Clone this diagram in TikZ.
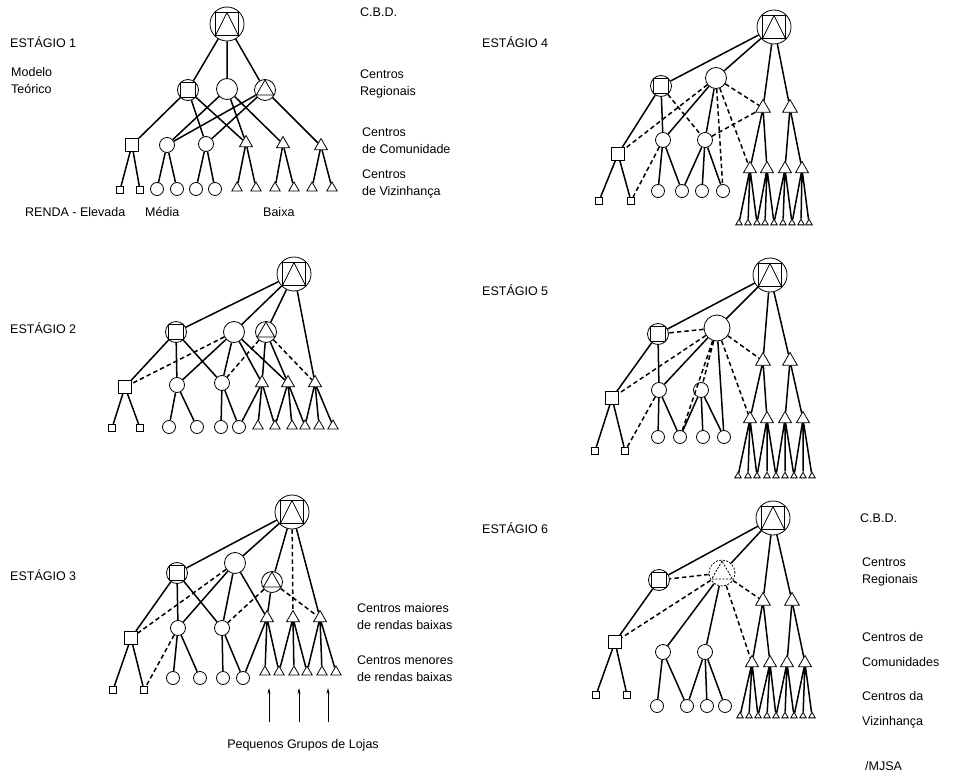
\documentclass[tikz,border=0pt]{standalone}
\usepackage{fontspec}
\setmainfont{Liberation Sans}
\usetikzlibrary{shapes.geometric,arrows.meta}

\begin{document}
\begin{tikzpicture}[x=1pt, y=-1pt]
  % styles
  \tikzstyle{unit}=[draw, line width=0.8pt, inner sep=0pt]
  \tikzstyle{cbd}=[unit, circle, minimum size=34pt, path picture={
      \draw [line width=0.8pt] (path picture bounding box.center) +(-11.5pt,-11.5pt) rectangle +(11.5pt,11.5pt);
      \draw [line width=0.8pt] (path picture bounding box.center) +(-11.5pt,-11.5pt) -- +(0pt,11.5pt) -- +(11.5pt,-11.5pt);}]
  \tikzstyle{regc}=[unit, circle, minimum size=21pt]
  \tikzstyle{regsq}=[regc, path picture={
      \draw [line width=0.8pt] (path picture bounding box.center) +(-7.3pt,-7.3pt) rectangle +(7.3pt,7.3pt);}]
  \tikzstyle{regtri}=[regc, path picture={
      \draw [line width=0.8pt] (path picture bounding box.center) +(90:10pt) -- +(210:10pt) -- +(330:10pt) -- cycle;}]
  \tikzstyle{regdash}=[unit, circle, dashed, dash pattern=on 2pt off 1.5pt, minimum size=26pt, path picture={
      \draw [line width=0.8pt, dash pattern=on 2pt off 1.5pt] (path picture bounding box.center) +(90:12pt) -- +(210:12pt) -- +(330:12pt) -- cycle;}]
  \tikzstyle{comsq}=[unit, rectangle, minimum size=13pt]
  \tikzstyle{comc}=[unit, circle, minimum size=15pt]
  \tikzstyle{comtri}=[unit, regular polygon, regular polygon sides=3, minimum size=15pt]
  \tikzstyle{bigtri}=[comtri, minimum size=17pt]
  \tikzstyle{vizsq}=[unit, rectangle, minimum size=7.5pt]
  \tikzstyle{vizc}=[unit, circle, minimum size=13pt]
  \tikzstyle{viztri}=[comtri, minimum size=12pt]
  \tikzstyle{grp}=[comtri, minimum size=7.5pt]
  \tikzstyle{link}=[draw, line width=1.5pt]
  \tikzstyle{dlink}=[draw, line width=1.5pt, dash pattern=on 4.5pt off 3pt]
  \tikzstyle{pointer}=[draw, line width=0.7pt, -{Stealth[length=6pt,width=3pt]}]
  \tikzstyle{lbl}=[anchor=west, inner sep=0pt, align=left, font=\fontsize{12.5}{17}\selectfont]

  \useasboundingbox (0,0) rectangle (962,776);

  % stage 1
  \node [cbd] (s1_cbd) at (227,24) {};
  \node [regsq] (s1_rsq) at (188,90) {};
  \node [regc] (s1_rc) at (227,89) {};
  \node [regtri] (s1_rtri) at (265,90) {};
  \node [comsq] (s1_csq) at (132,145) {};
  \node [comc] (s1_cc1) at (167,145) {};
  \node [comc] (s1_cc2) at (206,144) {};
  \node [comtri] (s1_ct1) at (246,143) {};
  \node [comtri] (s1_ct2) at (283,144) {};
  \node [comtri] (s1_ct3) at (321,146) {};
  \foreach \x [count=\i] in {120,140} \node [vizsq] (s1_vsq\i) at (\x,190) {};
  \foreach \x [count=\i] in {157,177,196,215} \node [vizc] (s1_vc\i) at (\x,189) {};
  \foreach \x [count=\i] in {237,256,275,294,312,332} \node [viztri] (s1_vt\i) at (\x,188) {};

  \draw [link] (s1_cbd) -- (s1_rsq) (s1_cbd) -- (s1_rc) (s1_cbd) -- (s1_rtri);
  \draw [link] (s1_rsq) -- (s1_csq) (s1_rsq) -- (s1_cc2) (s1_rsq) -- (s1_ct1);
  \draw [link] (s1_rc) -- (s1_cc1) (s1_rc) -- (s1_ct1) (s1_rc) -- (s1_ct2);
  \draw [link] (s1_rtri) -- (s1_cc1) (s1_rtri) -- (s1_cc2) (s1_rtri) -- (s1_ct3);
  \draw [link] (s1_ct1) -- (s1_vt1) (s1_ct1) -- (s1_vt2) (s1_ct2) -- (s1_vt3) (s1_ct2) -- (s1_vt4)
               (s1_ct3) -- (s1_vt5) (s1_ct3) -- (s1_vt6);

  % stage 2
  \node [cbd] (s2_cbd) at (294,274) {};
  \node [regsq] (s2_rsq) at (176,332) {};
  \node [regc] (s2_rc) at (234,332) {};
  \node [regtri] (s2_rtri) at (266,332) {};
  \node [comsq] (s2_csq) at (125,387) {};
  \node [comc] (s2_cc1) at (177,385) {};
  \node [comc] (s2_cc2) at (222,383) {};
  \node [comtri] (s2_ct1) at (262,383) {};
  \node [comtri] (s2_ct2) at (288,383) {};
  \node [comtri] (s2_ct3) at (315,383) {};
  \foreach \x [count=\i] in {112,140} \node [vizsq] (s2_vsq\i) at (\x,428) {};
  \foreach \x [count=\i] in {169,197,221,239} \node [vizc] (s2_vc\i) at (\x,427) {};
  \foreach \x [count=\i] in {258,275,292,305,319,333} \node [viztri] (s2_vt\i) at (\x,426) {};

  \draw [link] (s2_cbd) -- (s2_rsq) (s2_cbd) -- (s2_rc) (s2_cbd) -- (s2_rtri) (s2_cbd) -- (s2_ct3);
  \draw [link] (s2_rsq) -- (s2_csq) (s2_rsq) -- (s2_cc1) (s2_rsq) -- (s2_cc2);
  \draw [link] (s2_rc) -- (s2_cc1) (s2_rc) -- (s2_cc2) (s2_rc) -- (s2_ct1) (s2_rc) -- (s2_ct2);
  \draw [link] (s2_rtri) -- (s2_ct1) (s2_rtri) -- (s2_ct2);
  \draw [dlink] (s2_rc) -- (s2_csq) (s2_rtri) -- (s2_cc2) (s2_rtri) -- (s2_ct3);

  % stage 3
  \node [cbd] (s3_cbd) at (292,512) {};
  \node [regsq] (s3_rsq) at (177,573) {};
  \node [regc] (s3_rc) at (235,563) {};
  \node [regtri] (s3_rtri) at (272,582) {};
  \node [comsq] (s3_csq) at (131,638) {};
  \node [comc] (s3_cc1) at (178,628) {};
  \node [comc] (s3_cc2) at (222,628) {};
  \node [comtri] (s3_ct1) at (267,618) {};
  \node [comtri] (s3_ct2) at (293,618) {};
  \node [comtri] (s3_ct3) at (320,618) {};
  \foreach \x [count=\i] in {113,144} \node [vizsq] (s3_vsq\i) at (\x,690) {};
  \foreach \x [count=\i] in {173,200,223,243} \node [vizc] (s3_vc\i) at (\x,678) {};
  \foreach \x [count=\i] in {265,279,294,307,322,336} \node [viztri] (s3_vt\i) at (\x,672) {};

  \draw [link] (s3_cbd) -- (s3_rsq) (s3_cbd) -- (s3_rc) (s3_cbd) -- (s3_rtri) (s3_cbd) -- (s3_ct3);
  \draw [dlink] (s3_cbd) -- (s3_ct2);
  \draw [link] (s3_rsq) -- (s3_csq) (s3_rsq) -- (s3_cc1) (s3_rsq) -- (s3_cc2);
  \draw [link] (s3_rc) -- (s3_cc1) (s3_rc) -- (s3_cc2) (s3_rc) -- (s3_ct1);
  \draw [link] (s3_rtri) -- (s3_ct1);
  \draw [dlink] (s3_rc) -- (s3_csq) (s3_rtri) -- (s3_cc2) (s3_rtri) -- (s3_ct3) (s3_cc1) -- (s3_vsq2);
  \foreach \x [count=\i] in {269,299,328} {
    \coordinate (s3_a\i) at (\x,722);
    \coordinate (s3_b\i) at (\x,688);
    \draw [pointer] (s3_a\i) -- (s3_b\i);
  }

  % lower levels, stages 1 to 3
  \foreach \s in {1,2,3} {
    \draw [link] (s\s_csq) -- (s\s_vsq1) (s\s_csq) -- (s\s_vsq2);
    \draw [link] (s\s_cc1) -- (s\s_vc1) (s\s_cc1) -- (s\s_vc2) (s\s_cc2) -- (s\s_vc3) (s\s_cc2) -- (s\s_vc4);
  }
  \foreach \s in {2,3} {
    \draw [link] (s\s_ct1) -- (s\s_vc4) (s\s_ct1) -- (s\s_vt1) (s\s_ct1) -- (s\s_vt2)
                 (s\s_ct2) -- (s\s_vt2) (s\s_ct2) -- (s\s_vt3) (s\s_ct2) -- (s\s_vt4)
                 (s\s_ct3) -- (s\s_vt4) (s\s_ct3) -- (s\s_vt5) (s\s_ct3) -- (s\s_vt6);
  }

  % stage 4
  \node [cbd] (s4_cbd) at (774,27) {};
  \node [regsq] (s4_rsq) at (661,86) {};
  \node [regc] (s4_rc) at (716,78) {};
  \node [bigtri] (s4_bt1) at (763,108) {};
  \node [bigtri] (s4_bt2) at (790,108) {};
  \node [comsq] (s4_csq) at (618,154) {};
  \node [comc] (s4_cc1) at (663,140) {};
  \node [comc] (s4_cc2) at (705,140) {};
  \foreach \x [count=\i] in {750,767,785,802} \node [comtri] (s4_ct\i) at (\x,169) {};
  \foreach \x [count=\i] in {599,631} \node [vizsq] (s4_vsq\i) at (\x,201) {};
  \foreach \x [count=\i] in {658,682,702,723} \node [vizc] (s4_vc\i) at (\x,191) {};
  \foreach \x [count=\i] in {739,748,757,765,774,783,792,801,809} \node [grp] (s4_g\i) at (\x,223) {};

  \draw [link] (s4_cbd) -- (s4_rsq) (s4_cbd) -- (s4_rc) (s4_cbd) -- (s4_bt1) (s4_cbd) -- (s4_bt2);
  \draw [link] (s4_rsq) -- (s4_csq) (s4_rsq) -- (s4_cc1);
  \draw [link] (s4_rc) -- (s4_cc1) (s4_rc) -- (s4_cc2);
  \draw [dlink] (s4_rsq) -- (s4_cc2) (s4_rc) -- (s4_csq) (s4_rc) -- (s4_bt1) (s4_rc) -- (s4_ct1)
                (s4_rc) -- (s4_vc4) (s4_bt1) -- (s4_cc2);

  % stage 5
  \node [cbd] (s5_cbd) at (770,275) {};
  \node [regsq] (s5_rsq) at (658,334) {};
  \node [regc, minimum size=26pt] (s5_rc) at (717,328) {};
  \node [bigtri] (s5_bt1) at (763,361) {};
  \node [bigtri] (s5_bt2) at (790,361) {};
  \node [comsq] (s5_csq) at (612,398) {};
  \node [comc] (s5_cc1) at (659,390) {};
  \node [comc] (s5_cc2) at (701,390) {};
  \foreach \x [count=\i] in {750,767,785,803} \node [comtri] (s5_ct\i) at (\x,419) {};
  \foreach \x [count=\i] in {595,625} \node [vizsq] (s5_vsq\i) at (\x,451) {};
  \foreach \x [count=\i] in {658,680,703,724} \node [vizc] (s5_vc\i) at (\x,437) {};
  \foreach \x [count=\i] in {738,748,757,767,776,785,794,803,812} \node [grp] (s5_g\i) at (\x,476) {};

  \draw [link] (s5_cbd) -- (s5_rsq) (s5_cbd) -- (s5_rc) (s5_cbd) -- (s5_bt1) (s5_cbd) -- (s5_bt2);
  \draw [link] (s5_rsq) -- (s5_csq) (s5_rsq) -- (s5_cc1);
  \draw [link] (s5_rc) -- (s5_cc1) (s5_rc) -- (s5_vc4);
  \draw [dlink] (s5_rc) -- (s5_rsq) (s5_rc) -- (s5_csq) (s5_rc) -- (s5_cc2) (s5_rc) -- (s5_vc2)
                (s5_rc) -- (s5_ct1) (s5_rc) -- (s5_bt1);

  % stage 6
  \node [cbd] (s6_cbd) at (773,518) {};
  \node [regsq] (s6_rsq) at (659,580) {};
  \node [regdash] (s6_rd) at (722,573) {};
  \node [bigtri] (s6_bt1) at (763,601) {};
  \node [bigtri] (s6_bt2) at (792,601) {};
  \node [comsq] (s6_csq) at (615,642) {};
  \node [comc] (s6_cc1) at (663,652) {};
  \node [comc] (s6_cc2) at (705,652) {};
  \foreach \x [count=\i] in {752,770,787,805} \node [comtri] (s6_ct\i) at (\x,663) {};
  \foreach \x [count=\i] in {596,627} \node [vizsq] (s6_vsq\i) at (\x,695) {};
  \foreach \x [count=\i] in {657,687,707,725} \node [vizc] (s6_vc\i) at (\x,706) {};
  \foreach \x [count=\i] in {740,749,758,767,776,785,794,803,812} \node [grp] (s6_g\i) at (\x,716) {};

  \draw [link] (s6_cbd) -- (s6_rsq) (s6_cbd) -- (s6_rd) (s6_cbd) -- (s6_bt1) (s6_cbd) -- (s6_bt2);
  \draw [link] (s6_rsq) -- (s6_csq);
  \draw [link] (s6_rd) -- (s6_cc1) (s6_rd) -- (s6_cc2);
  \draw [dlink] (s6_rd) -- (s6_rsq) (s6_rd) -- (s6_csq) (s6_rd) -- (s6_ct1) (s6_rd) -- (s6_bt1);

  % lower levels, stages 4 to 6
  \foreach \s in {4,5,6} {
    \draw [link] (s\s_csq) -- (s\s_vsq1) (s\s_csq) -- (s\s_vsq2);
    \draw [link] (s\s_cc1) -- (s\s_vc1) (s\s_cc1) -- (s\s_vc2)
                 (s\s_cc2) -- (s\s_vc2) (s\s_cc2) -- (s\s_vc3) (s\s_cc2) -- (s\s_vc4);
    \draw [link] (s\s_bt1) -- (s\s_ct1) (s\s_bt1) -- (s\s_ct2) (s\s_bt2) -- (s\s_ct3) (s\s_bt2) -- (s\s_ct4);
    \foreach \i/\j/\k/\l in {1/1/2/3, 2/3/4/5, 3/5/6/7, 4/7/8/9}
      \draw [link] (s\s_ct\i) -- (s\s_g\j) (s\s_ct\i) -- (s\s_g\k) (s\s_ct\i) -- (s\s_g\l);
  }
  \foreach \s in {4,5}
    \draw [dlink] (s\s_cc1) -- (s\s_vsq2);

  % texts
  \node [lbl] (t_st1) at (10,42) {ESTÁGIO 1};
  \node [lbl] (t_model) at (11,81) {Modelo\\Teórico};
  \node [lbl] (t_cbd1) at (360,12) {C.B.D.};
  \node [lbl] (t_reg1) at (360,84) {Centros\\Regionais};
  \node [lbl] (t_com1) at (362,141) {Centros\\de Comunidade};
  \node [lbl] (t_viz1) at (362,184) {Centros\\de Vizinhança};
  \node [lbl] (t_renda) at (25,212) {RENDA - Elevada};
  \node [lbl] (t_media) at (145,212) {Média};
  \node [lbl] (t_baixa) at (263,212) {Baixa};
  \node [lbl] (t_st2) at (10,328) {ESTÁGIO 2};
  \node [lbl] (t_st3) at (10,575) {ESTÁGIO 3};
  \node [lbl] (t_maior) at (357,617) {Centros maiores\\de rendas baixas};
  \node [lbl] (t_menor) at (357,669) {Centros menores\\de rendas baixas};
  \node [lbl, anchor=center] (t_lojas) at (303,745) {Pequenos Grupos de Lojas};
  \node [lbl] (t_st4) at (482,42) {ESTÁGIO 4};
  \node [lbl] (t_st5) at (482,290) {ESTÁGIO 5};
  \node [lbl] (t_st6) at (482,528) {ESTÁGIO 6};
  \node [lbl] (t_cbd6) at (860,518) {C.B.D.};
  \node [lbl] (t_reg6) at (862,572) {Centros\\Regionais};
  \node [lbl, font=\fontsize{12.5}{25}\selectfont] (t_com6) at (862,650) {Centros de\\Comunidades};
  \node [lbl, font=\fontsize{12.5}{25}\selectfont] (t_viz6) at (862,710) {Centros da\\Vizinhança};
  \node [lbl] (t_sign) at (865,766) {/MJSA};
\end{tikzpicture}
\end{document}
